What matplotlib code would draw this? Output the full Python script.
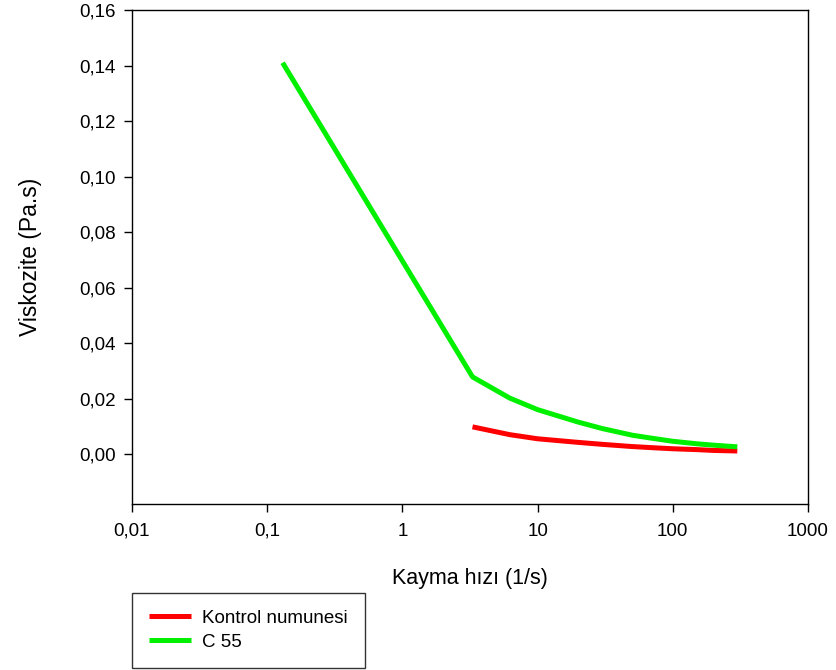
import matplotlib
matplotlib.use('Agg')
import matplotlib.pyplot as plt
from matplotlib.ticker import FixedLocator, FixedFormatter, NullLocator

plt.rcParams['font.family'] = ['Liberation Sans', 'DejaVu Sans']

# shear rate (1/s) and viscosity (Pa.s)
control_rate = [3.3, 6.2, 10, 20, 30, 50, 70, 100, 150, 200, 300]
control_visc = [0.0098, 0.0070, 0.0055, 0.0042, 0.0035, 0.0027, 0.0023, 0.0019, 0.0016, 0.0013, 0.0011]

c55_rate = [0.13, 3.3, 6.2, 10, 20, 30, 50, 70, 100, 150, 200, 300]
c55_visc = [0.141, 0.0278, 0.0202, 0.0160, 0.0115, 0.0092, 0.0068, 0.0057, 0.0046, 0.0037, 0.0032, 0.0026]

xticks = [0.01, 0.1, 1, 10, 100, 1000]
xtick_labels = ['0,01', '0,1', '1', '10', '100', '1000']
yticks = [0.00, 0.02, 0.04, 0.06, 0.08, 0.10, 0.12, 0.14, 0.16]
ytick_labels = [('%.2f' % v).replace('.', ',') for v in yticks]

fig = plt.figure(figsize=(8.37, 6.70), dpi=100)
ax = fig.add_axes([132 / 837, 1 - 504 / 670, 676 / 837, 494 / 670])

ax.plot(control_rate, control_visc, color='#ff0000', lw=3.6, label='Kontrol numunesi',
        solid_capstyle='butt')
ax.plot(c55_rate, c55_visc, color='#00f000', lw=3.6, label='C 55',
        solid_capstyle='butt')

ax.set_xscale('log')
ax.set_xlim(0.01, 1000)
ax.set_ylim(-0.018, 0.16)
ax.xaxis.set_major_locator(FixedLocator(xticks))
ax.xaxis.set_major_formatter(FixedFormatter(xtick_labels))
ax.xaxis.set_minor_locator(NullLocator())
ax.yaxis.set_major_locator(FixedLocator(yticks))
ax.yaxis.set_major_formatter(FixedFormatter(ytick_labels))

ax.tick_params(direction='out', length=5.5, width=1, labelsize=13.5, pad=6, colors='black')
ax.tick_params(axis='x', pad=8)
for s in ax.spines.values():
    s.set_linewidth(1)

ax.set_xlabel('Kayma hızı (1/s)', fontsize=15.5)
ax.set_ylabel('Viskozite (Pa.s)', fontsize=16.5)
ax.xaxis.set_label_coords(0.5, -0.13)
ax.yaxis.set_label_coords(-0.133, 0.5)

leg = fig.legend(loc='upper left', bbox_to_anchor=(132 / 837, 1 - 593 / 670),
                 fontsize=13.5, frameon=True, fancybox=False, edgecolor='black',
                 handlelength=2.25, handletextpad=0.6, borderpad=0.9, labelspacing=0.35,
                 borderaxespad=0)
leg.get_frame().set_linewidth(1)

fig.savefig('out.png', dpi=100)
plt.close(fig)
